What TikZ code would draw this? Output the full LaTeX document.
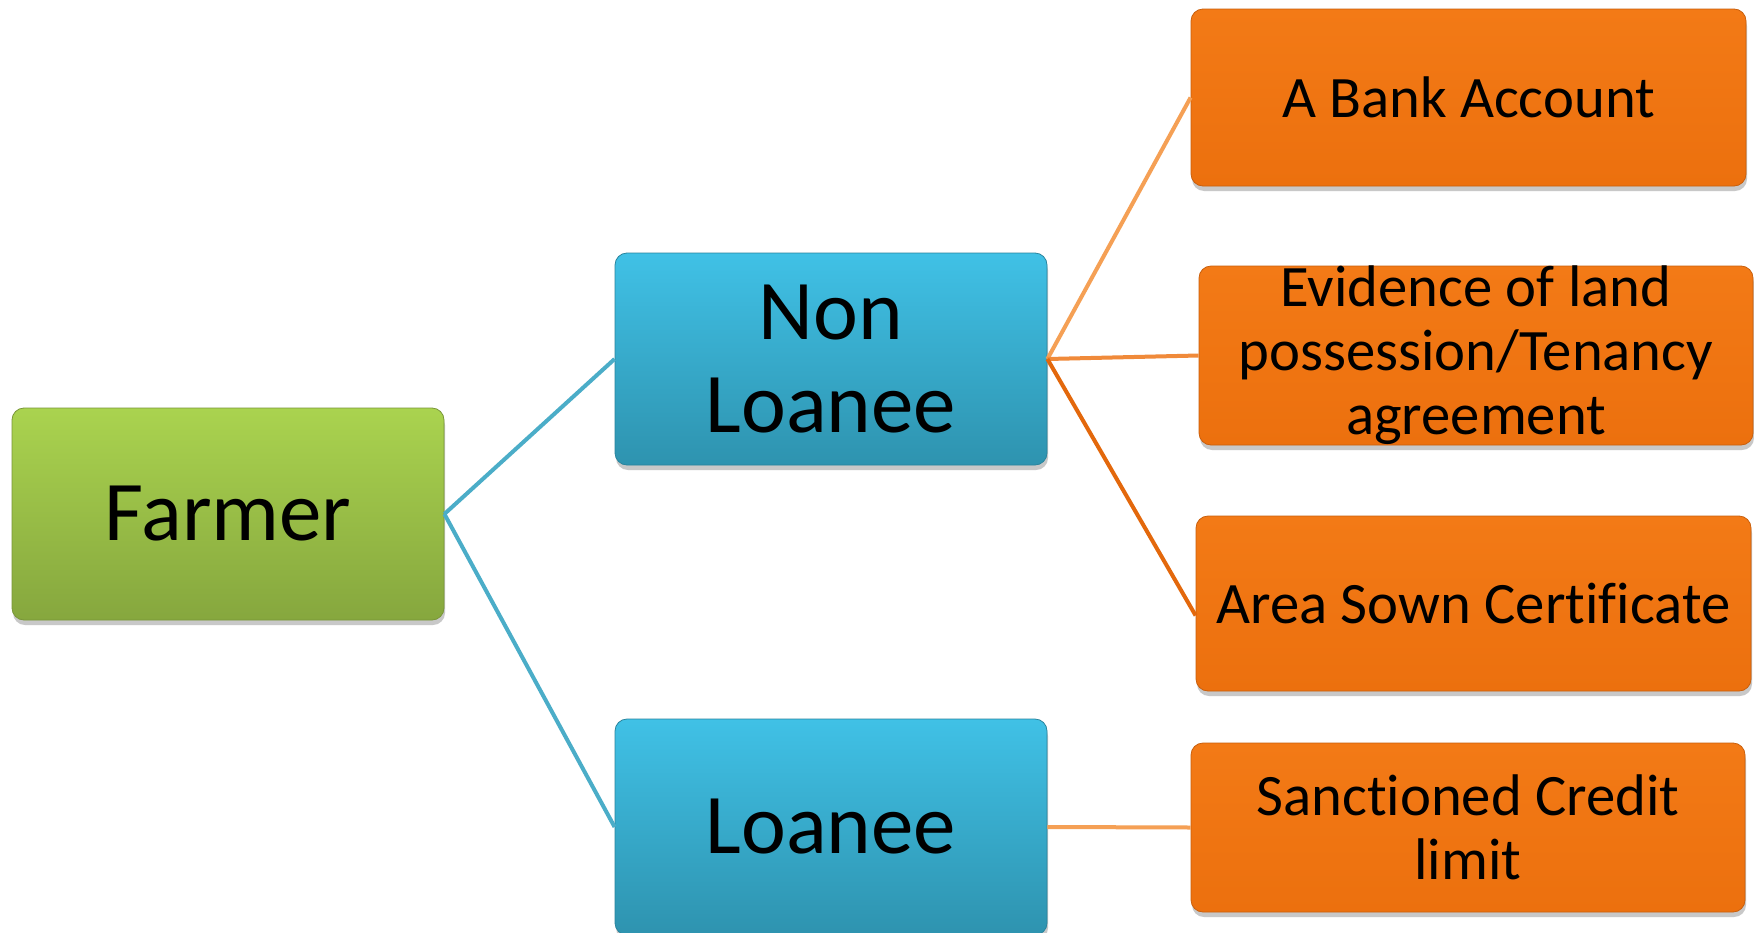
\documentclass[tikz,border=0pt]{standalone}
\usepackage{fontspec}
\setmainfont{Carlito}[Ligatures=NoCommon]
\usetikzlibrary{shadows,calc}
\definecolor{gtop}{HTML}{AAD34F}
\definecolor{gbot}{HTML}{86A73E}
\definecolor{btop}{HTML}{40C1E6}
\definecolor{bbot}{HTML}{2E93AF}
\definecolor{otop}{HTML}{F37A16}
\definecolor{obot}{HTML}{EC700E}
\definecolor{blueline}{HTML}{4BADC8}
\definecolor{oline1}{HTML}{F5A055}
\definecolor{oline2}{HTML}{F08A3A}
\definecolor{oline3}{HTML}{E3680C}
\tikzset{
  basebox/.style={rounded corners=12pt, inner sep=0pt, align=center,
    drop shadow={shadow xshift=1pt, shadow yshift=-5pt, opacity=0.3, fill=black!70}},
  greenbox/.style={basebox, top color=gtop, bottom color=gbot, draw=gbot!90!black, line width=0.8pt},
  bluebox/.style={basebox, top color=btop, bottom color=bbot, draw=bbot!90!black, line width=0.8pt},
  orangebox/.style={basebox, top color=otop, bottom color=obot, draw=obot!85!black, line width=0.8pt},
  bigtext/.style={font=\fontsize{85}{93}\selectfont},
  smalltext/.style={font=\fontsize{58.7}{64}\selectfont},
  bconn/.style={draw=blueline, line width=4pt},
}
\begin{document}
\begin{tikzpicture}[x=1pt,y=-1pt]
\useasboundingbox[fill=white] (0,0) rectangle (1754,932);
\node[greenbox, bigtext, minimum width=432pt, minimum height=212pt] (farmer) at (228,514) {Farmer};
\node[bluebox, bigtext, minimum width=432pt, minimum height=212pt] (nonloanee) at (831,359) {Non\\Loanee};
\node[bluebox, bigtext, minimum width=432pt, minimum height=216pt] (loanee) at (831,827) {Loanee};
\node[orangebox, smalltext, minimum width=555pt, minimum height=177pt] (bank) at (1468.5,97.5) {A Bank Account};
\node[orangebox, smalltext, minimum width=554pt, minimum height=179pt] (evidence) at (1476,355.5) {Evidence of land\\possession/Tenancy\\agreement};
\node[orangebox, smalltext, minimum width=555pt, minimum height=175pt] (area) at (1473.5,603.5) {Area Sown Certificate};
\node[orangebox, smalltext, minimum width=554pt, minimum height=169pt] (sanctioned) at (1468,827.5) {Sanctioned Credit\\limit};
\draw[bconn] (farmer.east) -- (nonloanee.west);
\draw[bconn] (farmer.east) -- (loanee.west);
\draw[draw=oline1, line width=4pt] (nonloanee.east) -- (bank.west);
\draw[draw=oline2, line width=4pt] (nonloanee.east) -- (evidence.west);
\draw[draw=oline3, line width=4pt] (nonloanee.east) -- ([yshift=-12pt]area.west);
\draw[draw=oline1, line width=4pt] (loanee.east) -- (sanctioned.west);
\end{tikzpicture}
\end{document}
